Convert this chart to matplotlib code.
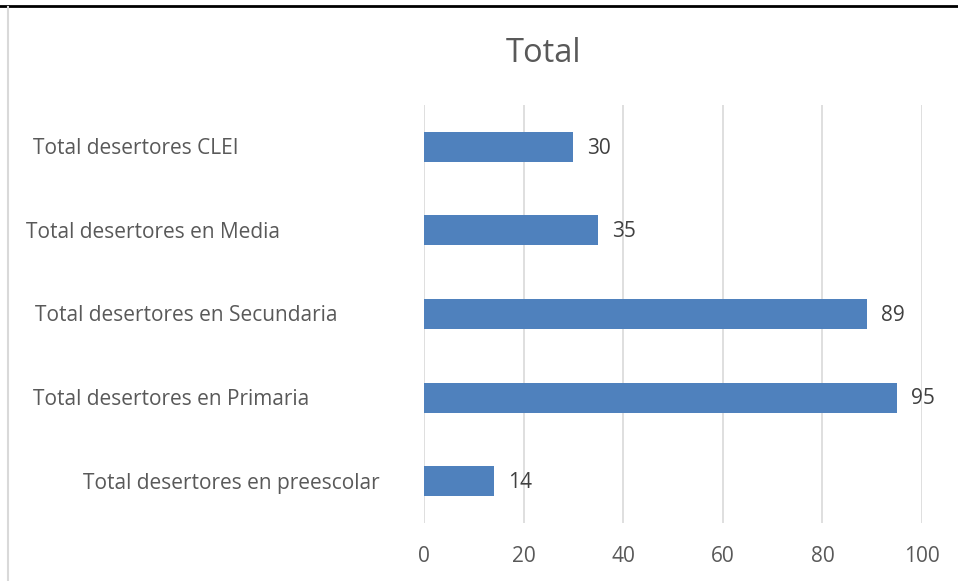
import matplotlib.pyplot as plt
from matplotlib.lines import Line2D

categories = ["Total desertores en preescolar", "Total desertores en Primaria",
              "Total desertores en Secundaria", "Total desertores en Media",
              "Total desertores CLEI"]
values = [14, 95, 89, 35, 30]
xticks = [0, 20, 40, 60, 80, 100]

W, H = 958, 581
fig = plt.figure(figsize=(W / 100, H / 100), dpi=100)
ax = fig.add_axes([424 / W, 1 - 523 / H, 498 / W, 418 / H])

font = ["Open Sans", "DejaVu Sans"]
grey = "#595959"

ax.barh(range(len(values)), values, height=0.36, color="#4F81BD", zorder=2)
for i, v in enumerate(values):
    ax.annotate(str(v), (v, i), xytext=(10, -1), textcoords="offset points",
                va="center", ha="left", fontsize=15, color="#404040", family=font)

ax.set_xlim(0, 100)
ax.set_ylim(-0.5, len(values) - 0.5)
ax.set_xticks(xticks)
ax.set_xticklabels([str(t) for t in xticks], fontsize=15, color=grey, family=font)
ax.tick_params(axis="x", length=0, pad=16.5)
ax.set_yticks([])
ax.grid(axis="x", color="#D9D9D9", linewidth=1.2, zorder=0)
for s in ax.spines.values():
    s.set_visible(False)

# category labels, left edges as in the original (not aligned)
label_left = [83, 33, 35, 26, 33]
for i, lab in enumerate(categories):
    y_pix = ax.transData.transform((0, i))[1] - 2
    fig.text(label_left[i] / W, y_pix / H, lab, ha="left", va="center",
             fontsize=15, color=grey, family=font)

fig.text(544 / W, 1 - 53 / H, "Total", ha="center", va="center",
         fontsize=23.5, color=grey, family=font)

# frame lines
fig.add_artist(Line2D([0, 1], [1 - 6 / H, 1 - 6 / H], color="black", linewidth=2))
fig.add_artist(Line2D([8 / W, 8 / W], [0, 1 - 7 / H], color="#D9D9D9", linewidth=1.5))

fig.savefig("out.png", dpi=100)
